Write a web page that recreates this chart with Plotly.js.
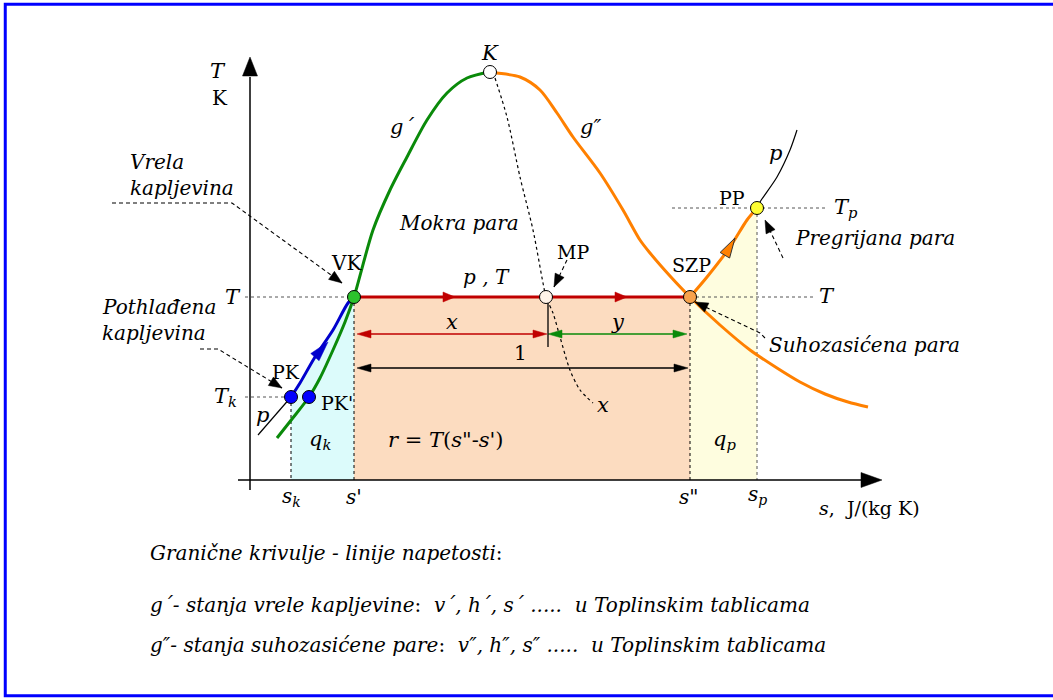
<!DOCTYPE html>
<html><head><meta charset="utf-8">
<script src="https://cdn.plot.ly/plotly-3.0.1.min.js"></script>
<style>html,body{margin:0;padding:0;background:#fff}#chart{width:1053px;height:700px}</style>
</head><body><div id="chart"></div>
<script>
// T-s diagram of a pure substance (schematic units: s and T both in "diagram units")

// characteristic entropies
const sK = 4.1, sPK2 = 5.9, sLiq = 10.4, sMP = 29.6, sVap = 44.0, sP = 50.7, sCrit = 24.0;
// characteristic temperatures
const Tk = 8.3, Ts = 18.3, Tp = 27.2, Tcrit = 40.8;

// saturated liquid boundary g'
const gLiqS = [2.7, 4.2, 5.9, 7.0, 8.3, 9.5, 10.4, 12.3, 14.0, 15.7, 17.7, 19.7, 21.7, 24.0];
const gLiqT = [4.2, 6.1, 8.3, 10.2, 13.0, 15.8, 18.3, 25.0, 29.0, 32.3, 36.0, 38.7, 40.2, 40.8];
// saturated vapour boundary g''
const gVapS = [24.0, 24.7, 27.0, 29.0, 30.7, 32.3, 35.0, 37.3, 39.0, 40.0, 42.0, 44.0, 47.0, 50.0, 52.7, 55.0, 57.5, 59.8, 61.8];
const gVapT = [40.8, 40.7, 40.3, 39.0, 36.7, 34.3, 30.7, 27.0, 24.0, 22.7, 20.4, 18.3, 15.5, 13.0, 11.2, 9.8, 8.6, 7.8, 7.3];
// heating of the subcooled liquid PK -> VK
const liqPathS = [4.1, 5.0, 6.5, 8.3, 9.8, 10.4];
const liqPathT = [8.3, 9.7, 12.3, 15.0, 17.7, 18.3];
// superheating SZP -> PP
const supPathS = [44.0, 45.7, 48.0, 49.7, 50.7];
const supPathT = [18.3, 20.3, 23.3, 26.0, 27.2];
// isobar p beyond PP and below PK
const isoHiS = [50.7, 51.0, 52.7, 54.0, 54.7];
const isoHiT = [27.2, 27.8, 30.3, 33.0, 35.0];
const isoLoS = [0.8, 4.1];
const isoLoT = [4.5, 8.3];
// constant quality line x through K and MP
const xLineS = [24.5, 25.7, 27.0, 28.3, 29.3, 29.6, 30.3, 31.0, 32.0, 33.0, 34.3];
const xLineT = [40.2, 36.3, 30.3, 25.0, 19.7, 18.3, 16.7, 14.3, 11.0, 9.0, 7.7];

// axis extents
const axisS = [-1.2, 63.2];
const axisT = [-1.0, 42.3];

const FONT = 'DejaVu Serif';
const traces = [];

function line(xs, ys, color, width, dash, shape) {
  traces.push({x: xs, y: ys, mode: 'lines', hoverinfo: 'skip',
    line: {color: color, width: width, dash: dash || 'solid', shape: shape || 'linear', smoothing: 0.8}});
}
function area(xs, ys, color) {
  traces.push({x: xs, y: ys, mode: 'lines', fill: 'toself', fillcolor: color,
    line: {width: 0, color: color}, hoverinfo: 'skip'});
}
// filled triangular arrowhead: tip point, a point it comes from, length and half width
function head(tx, ty, fx, fy, len, hw, color, edge) {
  const dx = tx - fx, dy = ty - fy, d = Math.hypot(dx, dy);
  const ux = dx / d, uy = dy / d, bx = tx - ux * len, by = ty - uy * len;
  const nx = -uy * hw, ny = ux * hw;
  traces.push({x: [tx, bx + nx, bx - nx, tx], y: [ty, by + ny, by - ny, ty], mode: 'lines',
    fill: 'toself', fillcolor: color, line: {color: edge || color, width: edge ? 1 : 0.5}, hoverinfo: 'skip'});
}
function dblArrow(x0, x1, y, color, len, hw) {
  line([x0 + len * 0.5, x1 - len * 0.5], [y, y], color, 1.5);
  head(x0, y, x1, y, len, hw, color);
  head(x1, y, x0, y, len, hw, color);
}
function leader(xs, ys, len, hw) {
  line(xs, ys, '#000', 1.1, '4px,3px');
  const n = xs.length;
  head(xs[n - 1], ys[n - 1], xs[n - 2], ys[n - 2], len, hw, '#000');
}

// shaded heat areas
area([sK, sK].concat(liqPathS, [sLiq]), [0, Tk].concat(liqPathT, [0]), '#dcfbfb');
area([sLiq, sLiq, sVap, sVap], [0, Ts, Ts, 0], '#fcdcc0');
area([sVap].concat(supPathS, [sP]), [0].concat(supPathT, [0]), '#fefddf');

// guide lines
line([sK, sK], [Tk, 0], '#000', 1, '3px,3px');
line([sLiq, sLiq], [Ts, 0], '#000', 1, '3px,3px');
line([sVap, sVap], [Ts, 0], '#000', 1, '3px,3px');
line([sP, sP], [Tp, 0], '#555', 1, '3px,3px');
line([-0.5, sK], [Tk, Tk], '#555', 1, '3px,3px');
line([-0.5, sLiq], [Ts, Ts], '#555', 1, '3px,3px');
line([sVap, 56.5], [Ts, Ts], '#555', 1, '3px,3px');
line([42.2, 57.5], [Tp, Tp], '#555', 1, '3px,3px');

// axes
line([axisS[0], axisS[1] - 2], [0, 0], '#000', 1.5);
head(axisS[1], 0, 0, 0, 2.1, 0.75, '#000');
line([0, 0], [axisT[0], axisT[1] - 2], '#000', 1.5);
head(0, axisT[1], 0, 0, 1.9, 0.75, '#000');

// quality line x
line(xLineS, xLineT, '#000', 1.2, '3px,3px', 'spline');

// isobars
line(isoLoS, isoLoT, '#000', 1.2);
line(isoHiS, isoHiT, '#000', 1.2, 'solid', 'spline');

// boundary curves
line(gLiqS, gLiqT, '#0a8a0a', 3, 'solid', 'spline');
line(gVapS, gVapT, '#ff8000', 3, 'solid', 'spline');

// process paths
line(liqPathS, liqPathT, '#0000cc', 3, 'solid', 'spline');
head(7.8, 13.8, 6.5, 12.3, 2.0, 0.55, '#0000cc');
line(supPathS, supPathT, '#ff8000', 3, 'solid', 'spline');
head(48.5, 24.2, 47.5, 22.5, 2.0, 0.55, '#ff8000', '#333');
line([sLiq, sVap], [Ts, Ts], '#c00000', 3);
head(20.5, Ts, 19.0, Ts, 1.2, 0.5, '#c00000');
head(37.7, Ts, 36.2, Ts, 1.2, 0.5, '#c00000');

// fractions x, y and the whole width 1
dblArrow(sLiq + 0.3, sMP + 0.1, 14.6, '#c00000', 1.4, 0.4);
dblArrow(sMP + 0.2, sVap - 0.3, 14.6, '#0a8a0a', 1.4, 0.4);
dblArrow(sLiq + 0.3, sVap - 0.2, 11.2, '#000', 1.4, 0.4);
line([sMP + 0.2, sMP + 0.2], [Ts - 0.6, 13.3], '#000', 1.3);

// leaders
leader([-13.8, -1.8, 9.2], [27.7, 27.7, 19.7], 1.3, 0.5);
leader([-5.0, -3.2, 3.2], [13.1, 13.1, 9.2], 1.3, 0.5);
leader([31.7, 30.4], [22.0, 19.3], 1.3, 0.5);
leader([53.3, 51.5], [22.2, 26.0], 1.3, 0.5);
leader([51.5, 51.0, 44.5], [14.2, 14.7, 17.8], 1.3, 0.5);

// state points
const stateS = [sK, sPK2, sLiq, sMP, sVap, sP, sCrit];
const stateT = [Tk, Tk, Ts, Ts, Ts, Tp, Tcrit];
traces.push({x: stateS, y: stateT, mode: 'markers', hoverinfo: 'skip',
  marker: {size: 13, color: ['#0000ff', '#0000ff', '#2cc22c', '#fff3e8', '#f7a24c', '#ffff33', '#ffffff'],
    line: {color: '#000', width: 1}}});

// labels
const ann = [];
function lab(x, y, text, size, xa) {
  ann.push({x: x, y: y, text: text, showarrow: false, xanchor: xa || 'center', yanchor: 'middle',
    font: {family: FONT, size: size || 21, color: '#000'}});
}
lab(-3.2, 40.9, '<i>T</i>');
lab(-3.0, 38.2, 'K', 20);
lab(-12.2, 31.8, '<i>Vrela</i>', 20, 'left');
lab(-12.2, 29.2, '<i>kapljevina</i>', 20, 'left');
lab(-15.0, 17.3, '<i>Pothlađena</i>', 20, 'left');
lab(-15.0, 14.7, '<i>kapljevina</i>', 20, 'left');
lab(-1.7, 18.3, '<i>T</i>');
lab(-2.5, 8.3, '<i>T</i><sub><i>k</i></sub>');
lab(1.2, 6.5, '<i>p</i>');
lab(3.6, 10.8, 'PK', 19);
lab(6.9, 7.7, "PK'", 19, 'left');
lab(7.0, 4.0, '<i>q</i><sub><i>k</i></sub>');
lab(9.6, 21.7, 'VK', 20);
lab(15.2, 35.3, '<i>g´</i>');
lab(24.0, 42.7, '<i>K</i>');
lab(34.0, 35.3, '<i>g″</i>');
lab(20.9, 25.7, '<i>Mokra para</i>', 20);
lab(23.6, 20.3, '<i>p , T</i>', 20);
lab(32.3, 22.8, 'MP', 19);
lab(20.2, 15.8, '<i>x</i>');
lab(36.8, 15.8, '<i>y</i>');
lab(27.0, 12.7, '1', 20);
lab(35.3, 7.5, '<i>x</i>');
lab(19.6, 4.0, '<i>r</i> = <i>T</i>(<i>s</i>"-<i>s</i>\')', 21);
lab(47.4, 4.0, '<i>q</i><sub><i>p</i></sub>');
lab(44.1, 21.5, 'SZP', 19);
lab(48.2, 28.2, 'PP', 19);
lab(52.5, 32.7, '<i>p</i>');
lab(58.2, 27.2, '<i>T</i><sub><i>p</i></sub>', 21, 'left');
lab(54.3, 24.2, '<i>Pregrijana para</i>', 20, 'left');
lab(57.7, 18.4, '<i>T</i>');
lab(51.7, 13.5, '<i>Suhozasićena para</i>', 20, 'left');
lab(4.1, -1.7, '<i>s</i><sub><i>k</i></sub>', 20);
lab(10.4, -1.7, "<i>s</i>'", 20);
lab(43.8, -1.7, '<i>s</i>"', 20);
lab(50.7, -1.5, '<i>s</i><sub><i>p</i></sub>', 20);
lab(56.7, -2.8, '<i>s</i>,\u00a0 J/(kg K)', 19, 'left');
lab(-10.2, -7.3, '<i>Granične krivulje - linije napetosti</i>:', 20, 'left');
lab(-10.2, -12.5, '<i>g´- stanja vrele kapljevine</i>:\u00a0 <i>v´, h´, s´ .....\u00a0 u Toplinskim tablicama</i>', 20, 'left');
lab(-10.2, -16.5, '<i>g″- stanja suhozasićene pare</i>:\u00a0 <i>v″, h″, s″ .....\u00a0 u Toplinskim tablicama</i>', 20, 'left');

const layout = {
  width: 1053, height: 700,
  margin: {l: 0, r: 0, t: 0, b: 0},
  font: {family: FONT, size: 21, color: '#000'},
  paper_bgcolor: '#fff', plot_bgcolor: '#fff',
  showlegend: false, hovermode: false,
  xaxis: {range: [-25, 80.3], visible: false, fixedrange: true},
  yaxis: {range: [-22, 48], visible: false, fixedrange: true},
  annotations: ann,
  shapes: [{type: 'rect', xref: 'paper', yref: 'paper', x0: 0.005, x1: 1.01, y0: 0.006, y1: 0.994,
    line: {color: '#0000ff', width: 3}, fillcolor: 'rgba(0,0,0,0)'}]
};
Plotly.newPlot('chart', traces, layout, {staticPlot: true, displayModeBar: false});
</script>
</body></html>
